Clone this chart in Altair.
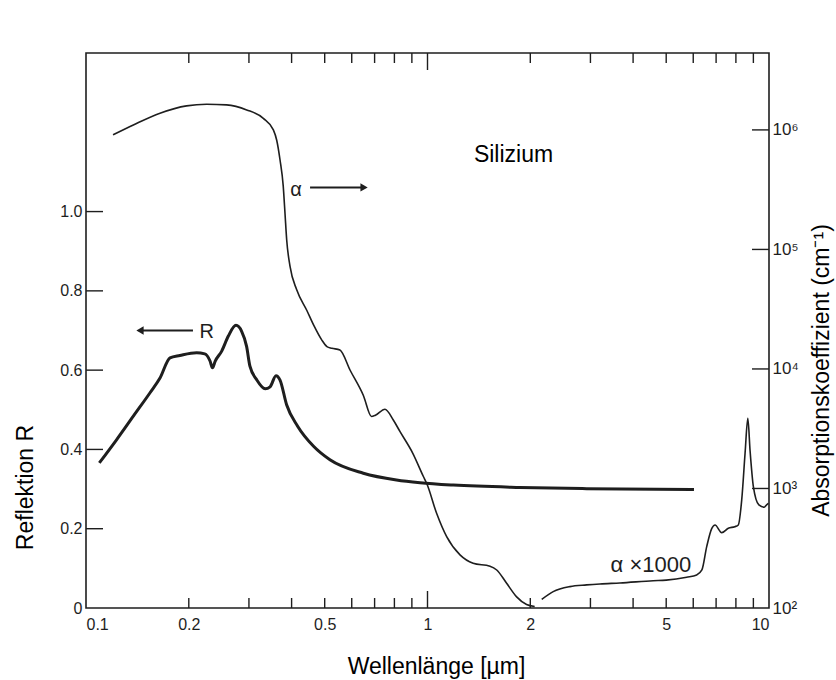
import altair as alt
import pandas as pd

# ---- data ----
r_wl = [0.1094, 0.123, 0.1376, 0.154, 0.1647, 0.1762, 0.1883, 0.2108, 0.2227, 0.2308,
        0.2346, 0.239, 0.2497, 0.2611, 0.2749, 0.2856, 0.2953, 0.302, 0.316, 0.3348,
        0.346, 0.360, 0.370, 0.387, 0.417, 0.4638, 0.518, 0.6488, 0.8114, 0.951,
        1.19, 1.866, 2.924, 6.03]
r_val = [0.366, 0.425, 0.484, 0.543, 0.580, 0.631, 0.637, 0.644, 0.641, 0.623,
         0.606, 0.623, 0.648, 0.686, 0.713, 0.698, 0.660, 0.610, 0.576, 0.553,
         0.558, 0.586, 0.575, 0.512, 0.458, 0.408, 0.374, 0.340, 0.323, 0.316,
         0.310, 0.304, 0.301, 0.299]

alpha_wl = [0.120, 0.1376, 0.1647, 0.197, 0.2256, 0.258, 0.2955, 0.3305, 0.3537, 0.3618,
            0.370, 0.378, 0.3826, 0.387, 0.3958, 0.414, 0.443, 0.465, 0.49, 0.5076,
            0.5246, 0.554, 0.593, 0.649, 0.6855, 0.7039, 0.7508, 0.794, 0.831, 0.9057,
            0.9726, 0.995, 1.064, 1.138, 1.245, 1.36, 1.524, 1.595, 1.705, 1.824,
            1.95, 2.06]
alpha_val = [9.1e5, 1.10e6, 1.38e6, 1.59e6, 1.64e6, 1.62e6, 1.47e6, 1.25e6, 1.0e6, 8.2e5,
             5.6e5, 3.4e5, 2.0e5, 1.2e5, 7.2e4, 4.6e4, 3.1e4, 2.3e4, 1.75e4, 1.54e4,
             1.49e4, 1.44e4, 9.8e3, 6.0e3, 4.0e3, 4.1e3, 4.6e3, 3.74e3, 2.99e3, 1.97e3,
             1.26e3, 1.10e3, 617, 395, 278, 237, 224, 208, 161, 124,
             107, 103]

# alpha x 1000 branch (values as plotted on the right axis)
ax_wl = [2.16, 2.334, 2.613, 2.924, 3.2, 3.66, 4.58, 5.0, 5.74, 6.14,
         6.36, 6.57, 6.8, 6.95, 7.27, 7.6, 7.94, 8.13, 8.32, 8.51,
         8.67, 8.8, 9.0, 9.34, 9.68, 9.84, 9.96]
ax_val = [118, 137, 151, 156, 159, 162, 169, 171, 181, 189,
          208, 326, 464, 495, 427, 465, 479, 495, 802, 1970,
          3860, 2090, 1035, 728, 697, 728, 752]

x_label_values = [0.1, 0.2, 0.5, 1, 2, 5, 10]
x_minor_ticks = [0.2, 0.3, 0.4, 0.5, 0.6, 0.7, 0.8, 0.9, 2, 3, 4, 5, 6, 7, 8, 9]
x_major_ticks = [1]
r_label_values = [0, 0.2, 0.4, 0.6, 0.8, 1.0]
r_tick_values = [0.2, 0.4, 0.6, 0.8, 1.0]
a_label_values = [1e2, 1e3, 1e4, 1e5, 1e6]
a_tick_values = [1e3, 1e4, 1e5, 1e6]

W, H = 683, 555
INK = "#1e1e1e"
FONT = "Liberation Sans"

xscale = alt.Scale(type="log", domain=[0.1, 10], nice=False)
rscale = alt.Scale(domain=[0, 1.4], nice=False, zero=False)
ascale = alt.Scale(type="log", domain=[100, 4.4e6], nice=False)

x_axis = alt.Axis(values=x_label_values, ticks=False, domain=False, grid=False,
                  labelExpr="datum.value < 1 ? format(datum.value, '.1f') : format(datum.value, 'd')",
                  labelPadding=8, labelFontSize=16, labelColor=INK, labelFont=FONT,
                  title="Wellenlänge [µm]", titleFont=FONT, titleFontSize=23,
                  titleFontWeight="normal", titleColor="black",
                  titleX=350, titleY=65, titleAlign="center", titleBaseline="alphabetic")

r_axis = alt.Axis(values=r_label_values, ticks=False, domain=False, grid=False,
                  labelExpr="datum.value == 0 ? '0' : format(datum.value, '.1f')",
                  labelPadding=4, labelFontSize=16, labelColor=INK, labelFont=FONT,
                  title="Reflektion R", titleFont=FONT, titleFontSize=23,
                  titleFontWeight="normal", titleColor="black", titleAngle=270,
                  titleX=-54, titleY=434, titleAlign="center", titleBaseline="alphabetic")

a_axis = alt.Axis(orient="right", values=a_label_values, ticks=False, domain=False, grid=False,
                  labelExpr="datum.value < 500 ? '10²' : datum.value < 5000 ? '10³' : datum.value < 50000 ? '10⁴' : datum.value < 500000 ? '10⁵' : '10⁶'",
                  labelPadding=3, labelFontSize=17, labelColor=INK, labelFont=FONT,
                  title="Absorptionskoeffizient (cm⁻¹)", titleFont=FONT, titleFontSize=23,
                  titleFontWeight="normal", titleColor="black", titleAngle=270,
                  titleX=59, titleY=317, titleAlign="center", titleBaseline="alphabetic")


def X(field="wl"):
    return alt.X(f"{field}:Q", scale=xscale, axis=x_axis)


def YR(field="R"):
    return alt.Y(f"{field}:Q", scale=rscale, axis=r_axis)


def YA(field="alpha"):
    return alt.Y(f"{field}:Q", scale=ascale, axis=a_axis)


df_r = pd.DataFrame({"wl": r_wl, "R": r_val})
df_a = pd.DataFrame({"wl": alpha_wl + ax_wl, "alpha": alpha_val + ax_val,
                     "series": ["alpha"] * len(alpha_wl) + ["alpha_x1000"] * len(ax_wl)})

r_line = alt.Chart(df_r).mark_line(color=INK, strokeWidth=3, interpolate="monotone").encode(
    x=X(), y=YR())


# inward ticks
def xticks(vals, y0, y1):
    return alt.Chart(pd.DataFrame({"wl": vals})).mark_rule(color=INK, strokeWidth=1.4).encode(
        x=X(), y=alt.value(y0), y2=alt.value(y1))


bottom_minor = xticks(x_minor_ticks, H, H - 10)
top_minor = xticks(x_minor_ticks, 0, 10)
bottom_major = xticks(x_major_ticks, H, H - 17)
top_major = xticks(x_major_ticks, 0, 17)

left_ticks = alt.Chart(pd.DataFrame({"R": r_tick_values})).mark_rule(color=INK, strokeWidth=1.4).encode(
    y=YR(), x=alt.value(0), x2=alt.value(17))


def label(wl, r, text, size, color=INK):
    return alt.Chart(pd.DataFrame({"wl": [wl], "R": [r], "t": [text]})).mark_text(
        font=FONT, fontSize=size, color=color, align="center", baseline="alphabetic").encode(
        x=X(), y=YR(), text="t:N")


silizium = label(1.786, 1.125, "Silizium", 23, "black")
alpha_lbl = label(0.412, 1.040, "α", 20)
r_lbl = label(0.2255, 0.680, "R", 20)
ax_lbl = label(4.51, 0.091, "α ×1000", 22)

arrow_df = pd.DataFrame({"wl": [0.453, 0.1439], "wl2": [0.643, 0.2057], "R": [1.061, 0.700]})
arrow_lines = alt.Chart(arrow_df).mark_rule(color=INK, strokeWidth=2).encode(
    x=X(), x2="wl2:Q", y=YR())
head_r = alt.Chart(pd.DataFrame({"wl": [0.652], "R": [1.061]})).mark_point(
    shape="triangle-right", filled=True, size=70, color=INK, opacity=1).encode(x=X(), y=YR())
head_l = alt.Chart(pd.DataFrame({"wl": [0.1439], "R": [0.700]})).mark_point(
    shape="triangle-left", filled=True, size=70, color=INK, opacity=1).encode(x=X(), y=YR())

left = alt.layer(r_line, bottom_minor, top_minor, bottom_major, top_major, left_ticks,
                 silizium, alpha_lbl, r_lbl, ax_lbl, arrow_lines, head_r, head_l)

a_lines = alt.Chart(df_a).mark_line(color=INK, strokeWidth=1.6, interpolate="monotone").encode(
    x=X(), y=YA(), detail="series:N")
right_ticks = alt.Chart(pd.DataFrame({"alpha": a_tick_values})).mark_rule(color=INK, strokeWidth=1.4).encode(
    y=YA(), x=alt.value(W), x2=alt.value(W - 17))

right = alt.layer(a_lines, right_ticks)

chart = alt.layer(left, right).resolve_scale(y="independent").properties(
    width=W, height=H,
    padding={"left": 86, "top": 53, "right": 67, "bottom": 72},
    autosize=alt.AutoSizeParams(type="none"),
    background="white",
).configure_view(stroke=INK, strokeWidth=1.6)

chart.save("out.html", embed_options={"renderer": "svg", "actions": False})
